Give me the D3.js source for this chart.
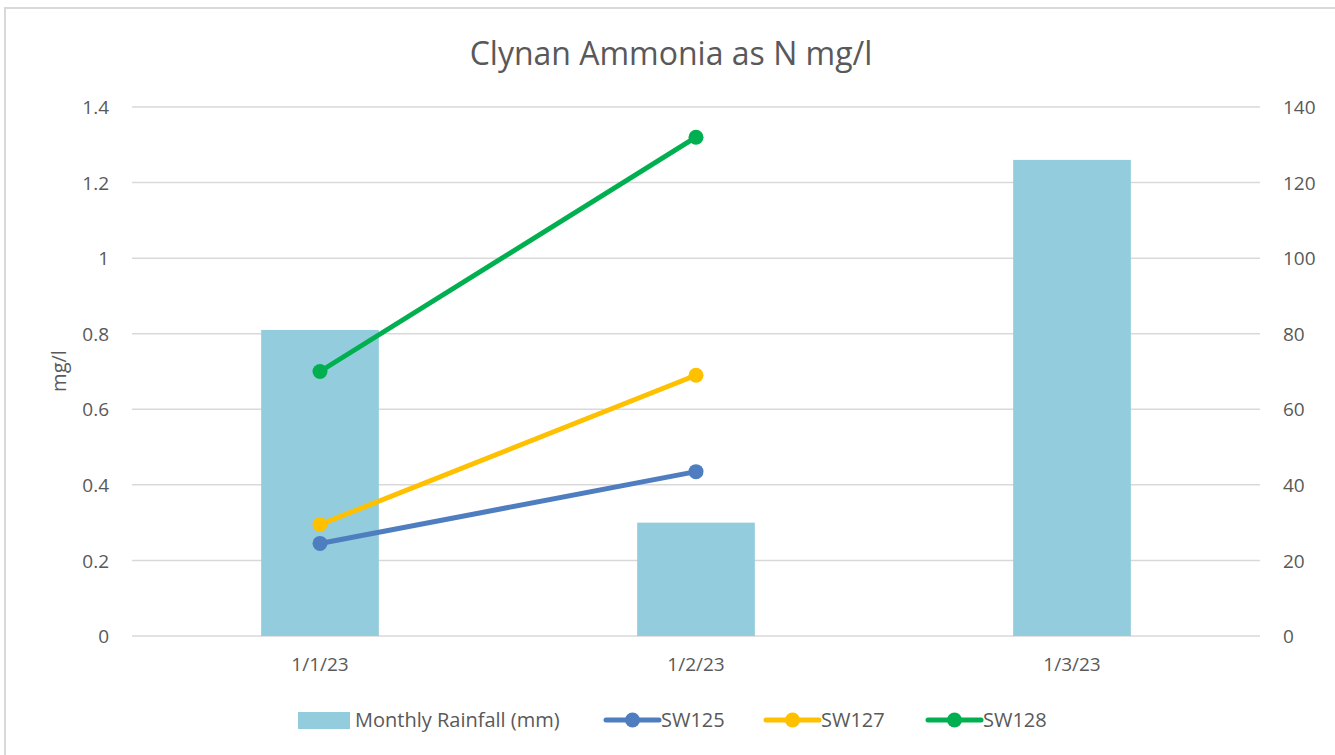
<!DOCTYPE html>
<html><head><meta charset="utf-8">
<script src="https://cdn.jsdelivr.net/npm/d3@7"></script>
<style>body{margin:0;background:#fff;} text{font-family:"Open Sans",sans-serif;fill:#595959;}</style>
</head><body>
<svg id="c" width="1335" height="755"></svg>
<script>
const categories = ["1/1/23","1/2/23","1/3/23"];
const rainfall = [81, 30, 126];
const sw125 = [0.245, 0.435, null];
const sw127 = [0.295, 0.69, null];
const sw128 = [0.70, 1.32, null];
const leftTicks = [0,0.2,0.4,0.6,0.8,1,1.2,1.4];
const rightTicks = [0,20,40,60,80,100,120,140];
const series = [
  {name:"SW125", values: sw125, color:"#4e7ebf"},
  {name:"SW127", values: sw127, color:"#ffc000"},
  {name:"SW128", values: sw128, color:"#00b050"}
];
const barColor = "#93cddd";

const svg = d3.select("#c");
svg.append("rect").attr("x",5).attr("y",8).attr("width",1340).attr("height",760)
  .attr("fill","#fff").attr("stroke","#d9d9d9").attr("stroke-width",2);

const L=132, R=1260, T=107, B=636;
const x = d3.scaleBand().domain(categories).range([L,R]).paddingInner(0.687).paddingOuter(0.3435);
const xc = d => x(d)+x.bandwidth()/2;
const yL = d3.scaleLinear().domain([0,1.4]).range([B,T]);
const yR = d3.scaleLinear().domain([0,140]).range([B,T]);

// gridlines
svg.append("g").selectAll("line").data(leftTicks).join("line")
  .attr("x1",L).attr("x2",R).attr("y1",d=>yL(d)).attr("y2",d=>yL(d))
  .attr("stroke","#d9d9d9").attr("stroke-width",1.5);

// bars
svg.append("g").selectAll("rect").data(categories).join("rect")
  .attr("x",d=>x(d)).attr("width",x.bandwidth())
  .attr("y",(d,i)=>yR(rainfall[i])).attr("height",(d,i)=>B-yR(rainfall[i]))
  .attr("fill",barColor);

// axes
const gl = svg.append("g").attr("transform",`translate(${L-23},0)`)
  .call(d3.axisLeft(yL).tickValues(leftTicks).tickSize(0).tickPadding(0).tickFormat(d3.format("~g")));
const gr = svg.append("g").attr("transform",`translate(${R+23},0)`)
  .call(d3.axisRight(yR).tickValues(rightTicks).tickSize(0).tickPadding(0));
const gx = svg.append("g").attr("transform",`translate(0,${B+21})`)
  .call(d3.axisBottom(x).tickSize(0).tickPadding(0));
[gl,gr,gx].forEach(g=>{g.select(".domain").remove(); g.selectAll("text").style("font-size","19px").attr("fill","#595959").style("font-family","'Open Sans',sans-serif");});
gx.selectAll("text").attr("dy","0.71em");
gl.selectAll("text").attr("dy","0.35em");
gr.selectAll("text").attr("dy","0.35em");

// lines
const line = d3.line().defined(d=>d.v!=null).x(d=>xc(d.c)).y(d=>yL(d.v));
series.forEach(s=>{
  const pts = categories.map((c,i)=>({c, v:s.values[i]}));
  svg.append("path").datum(pts).attr("d",line).attr("fill","none")
    .attr("stroke",s.color).attr("stroke-width",5).attr("stroke-linecap","round");
  svg.append("g").selectAll("circle").data(pts.filter(d=>d.v!=null)).join("circle")
    .attr("cx",d=>xc(d.c)).attr("cy",d=>yL(d.v)).attr("r",7.5).attr("fill",s.color);
});

// title
svg.append("text").attr("x",671).attr("y",65).attr("text-anchor","middle")
  .style("font-size","32px").text("Clynan Ammonia as N mg/l");
// y title
svg.append("text").attr("transform","translate(66,371) rotate(-90)").attr("text-anchor","middle")
  .style("font-size","20px").text("mg/l");

// legend
const lg = svg.append("g");
const ly = 720;
lg.append("rect").attr("x",298).attr("y",712).attr("width",52).attr("height",17).attr("fill",barColor);
lg.append("text").attr("x",355).attr("y",ly).attr("dy","0.35em").style("font-size","20px").text("Monthly Rainfall (mm)");
const lx = [606,766,928];
series.forEach((s,i)=>{
  lg.append("line").attr("x1",lx[i]).attr("x2",lx[i]+53).attr("y1",ly).attr("y2",ly)
    .attr("stroke",s.color).attr("stroke-width",5).attr("stroke-linecap","round");
  lg.append("circle").attr("cx",lx[i]+26.5).attr("cy",ly).attr("r",7.5).attr("fill",s.color);
  lg.append("text").attr("x",lx[i]+55).attr("y",ly).attr("dy","0.35em").style("font-size","20px").text(s.name);
});
</script>
</body></html>
